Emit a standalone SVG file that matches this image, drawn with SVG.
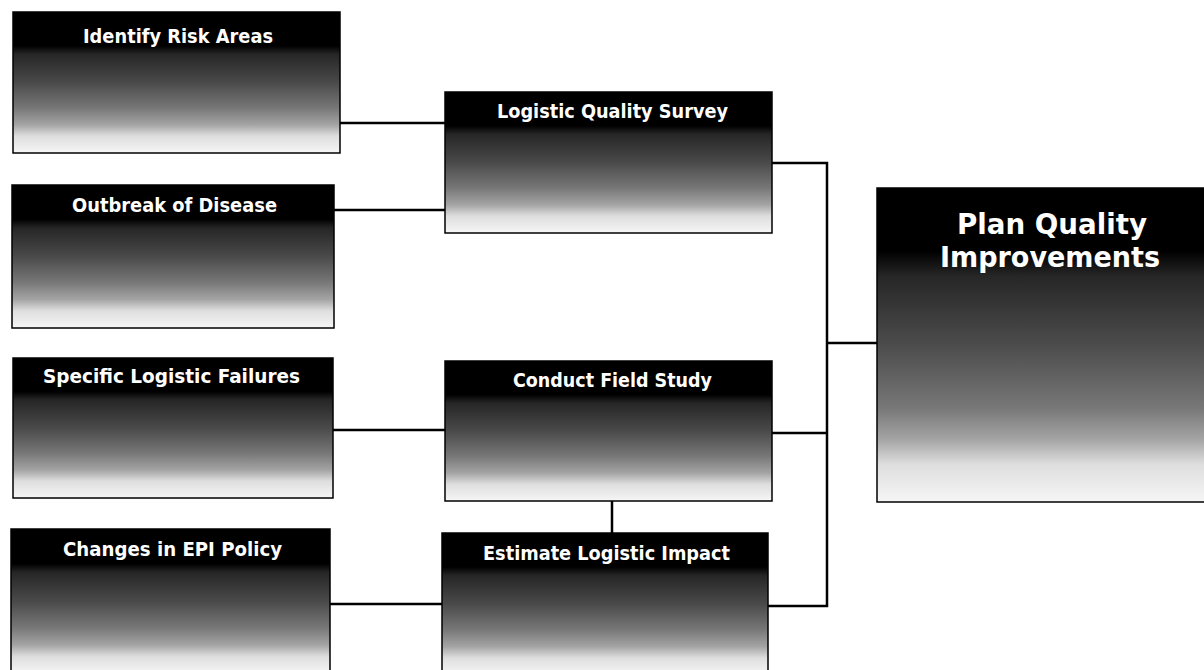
<svg xmlns="http://www.w3.org/2000/svg" width="1204" height="670" viewBox="0 0 1204 670">
<defs>
<linearGradient id="g" x1="0" y1="0" x2="0" y2="1">
<stop offset="0" stop-color="#000"/>
<stop offset="0.24" stop-color="#000"/>
<stop offset="0.3" stop-color="#262626"/>
<stop offset="0.5" stop-color="#4a4a4a"/>
<stop offset="0.68" stop-color="#777"/>
<stop offset="0.8" stop-color="#a4a4a4"/>
<stop offset="0.88" stop-color="#dedede"/>
<stop offset="1" stop-color="#f6f6f6"/>
</linearGradient>
<linearGradient id="g2" x1="0" y1="0" x2="0" y2="1">
<stop offset="0" stop-color="#000"/>
<stop offset="0.2" stop-color="#000"/>
<stop offset="0.28" stop-color="#262626"/>
<stop offset="0.5" stop-color="#4c4c4c"/>
<stop offset="0.7" stop-color="#777"/>
<stop offset="0.8" stop-color="#a4a4a4"/>
<stop offset="0.88" stop-color="#dedede"/>
<stop offset="1" stop-color="#f6f6f6"/>
</linearGradient>
</defs>
<style>
.box{fill:url(#g);stroke:#000;stroke-width:1.5}
.big{fill:url(#g2);stroke:#000;stroke-width:1.5}
.lbl{font-family:"DejaVu Sans Condensed","Liberation Sans",Arial,sans-serif;font-weight:bold;font-size:20px;fill:#fff;text-anchor:middle}
.lblb{font-family:"DejaVu Sans Condensed","Liberation Sans",Arial,sans-serif;font-weight:bold;font-size:29px;fill:#fff;text-anchor:middle}
.c{fill:none;stroke:#000;stroke-width:2.5}
</style>
<rect width="1204" height="670" fill="#fff"/>
<g id="connectors">
<path class="c" d="M340 123H447"/>
<path class="c" d="M334 210H447"/>
<path class="c" d="M333 430H445"/>
<path class="c" d="M330 604H442"/>
<path class="c" d="M772 163H827V606H768"/>
<path class="c" d="M772 433H827"/>
<path class="c" d="M827 343H877"/>
<path class="c" d="M612 501V533"/>
</g>
<g id="identify-risk-areas">
<rect class="box" x="13" y="12" width="327" height="141"/>
<text class="lbl" x="178" y="43" textLength="190" lengthAdjust="spacingAndGlyphs">Identify Risk Areas</text>
</g>
<g id="outbreak-of-disease">
<rect class="box" x="12" y="185" width="322" height="143"/>
<text class="lbl" x="174.5" y="212" textLength="205" lengthAdjust="spacingAndGlyphs">Outbreak of Disease</text>
</g>
<g id="specific-logistic-failures">
<rect class="box" x="13" y="358" width="320" height="140"/>
<text class="lbl" x="171.5" y="383" textLength="257" lengthAdjust="spacingAndGlyphs">Specific Logistic Failures</text>
</g>
<g id="changes-in-epi-policy">
<rect class="box" x="11" y="529" width="319" height="145"/>
<text class="lbl" x="172.5" y="556" textLength="219" lengthAdjust="spacingAndGlyphs">Changes in EPI Policy</text>
</g>
<g id="logistic-quality-survey">
<rect class="box" x="445" y="92" width="327" height="141"/>
<text class="lbl" x="612.5" y="118" textLength="231" lengthAdjust="spacingAndGlyphs">Logistic Quality Survey</text>
</g>
<g id="conduct-field-study">
<rect class="box" x="445" y="361" width="327" height="140"/>
<text class="lbl" x="612.5" y="387" textLength="199" lengthAdjust="spacingAndGlyphs">Conduct Field Study</text>
</g>
<g id="estimate-logistic-impact">
<rect class="box" x="442" y="533" width="326" height="142"/>
<text class="lbl" x="606.5" y="560" textLength="247" lengthAdjust="spacingAndGlyphs">Estimate Logistic Impact</text>
</g>
<g id="plan-quality-improvements">
<rect class="big" x="877" y="188" width="335" height="314"/>
<text class="lblb" x="1052" y="234" textLength="190" lengthAdjust="spacingAndGlyphs">Plan Quality</text>
<text class="lblb" x="1050" y="267" textLength="220" lengthAdjust="spacingAndGlyphs">Improvements</text>
</g>
</svg>
